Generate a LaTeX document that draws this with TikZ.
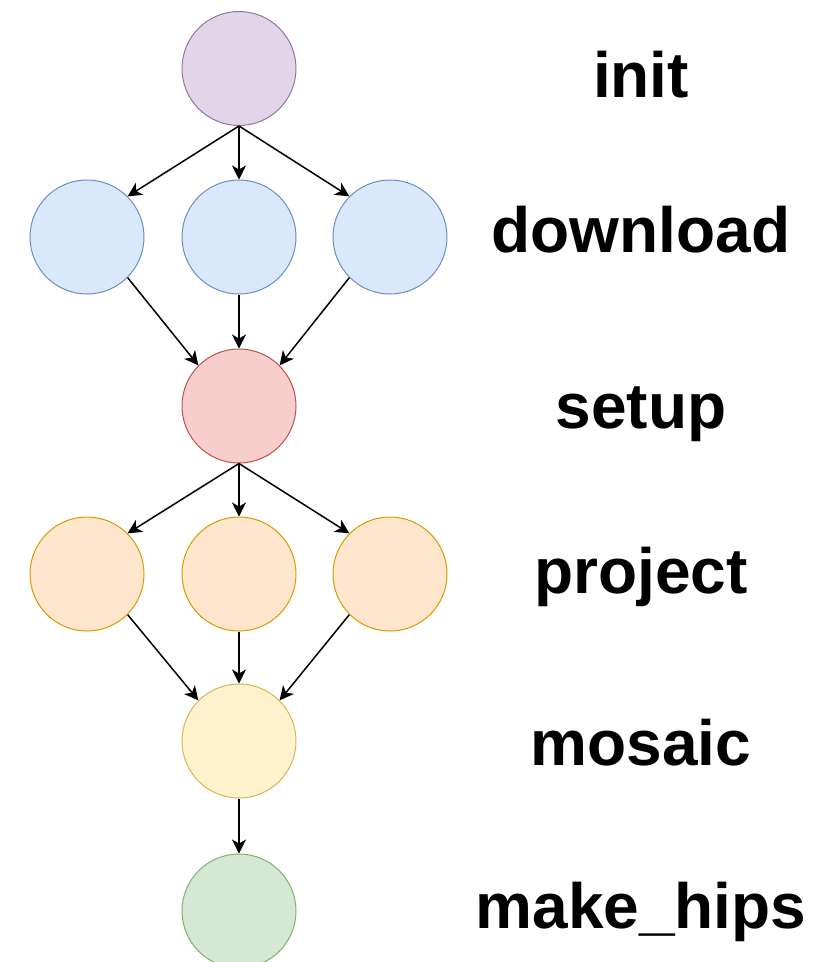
\documentclass[tikz,border=0pt]{standalone}
\usepackage{fontspec}
\setmainfont{Liberation Sans}
\usetikzlibrary{arrows.meta}

\definecolor{purpleFill}{HTML}{E1D5E7}\definecolor{purpleLine}{HTML}{9673A6}
\definecolor{blueFill}{HTML}{DAE8FC}\definecolor{blueLine}{HTML}{6C8EBF}
\definecolor{redFill}{HTML}{F8CECC}\definecolor{redLine}{HTML}{B85450}
\definecolor{orangeFill}{HTML}{FFE6CC}\definecolor{orangeLine}{HTML}{D79B00}
\definecolor{yellowFill}{HTML}{FFF2CC}\definecolor{yellowLine}{HTML}{D6B656}
\definecolor{greenFill}{HTML}{D5E8D4}\definecolor{greenLine}{HTML}{82B366}

\tikzset{
  job/.style={circle, minimum size=114pt, inner sep=0pt, line width=1pt},
  initjob/.style={job, fill=purpleFill, draw=purpleLine},
  downjob/.style={job, fill=blueFill, draw=blueLine},
  setupjob/.style={job, fill=redFill, draw=redLine},
  projjob/.style={job, fill=orangeFill, draw=orangeLine},
  mosjob/.style={job, fill=yellowFill, draw=yellowLine},
  hipsjob/.style={job, fill=greenFill, draw=greenLine},
  flow/.style={line width=1.5pt, -{Stealth[length=14pt, width=14pt, inset=4pt]}},
  stage/.style={anchor=base, font=\fontsize{64pt}{70pt}\selectfont\bfseries, inner sep=0pt}
}

\begin{document}
\begin{tikzpicture}[x=1pt, y=-1pt]
  \useasboundingbox (0,0) rectangle (830,962);

  % job nodes
  \node[initjob]  (init)  at (239,68.5) {};
  \node[downjob]  (dl1)   at (87,237)  {};
  \node[downjob]  (dl2)   at (239,237) {};
  \node[downjob]  (dl3)   at (390,237) {};
  \node[setupjob] (setup) at (239,406) {};
  \node[projjob]  (pr1)   at (87,574)  {};
  \node[projjob]  (pr2)   at (239,574) {};
  \node[projjob]  (pr3)   at (390,574) {};
  \node[mosjob]   (mos)   at (239,741) {};
  \node[hipsjob]  (hips)  at (239,911) {};

  % dependencies
  \draw[flow] (init.south) -- (dl1.north east);
  \draw[flow] (init.south) -- (dl2.north);
  \draw[flow] (init.south) -- (dl3.north west);
  \draw[flow] (dl1.south east) -- (setup.north west);
  \draw[flow] (dl2.south) -- (setup.north);
  \draw[flow] (dl3.south west) -- (setup.north east);
  \draw[flow] (setup.south) -- (pr1.north east);
  \draw[flow] (setup.south) -- (pr2.north);
  \draw[flow] (setup.south) -- (pr3.north west);
  \draw[flow] (pr1.south east) -- (mos.north west);
  \draw[flow] (pr2.south) -- (mos.north);
  \draw[flow] (pr3.south west) -- (mos.north east);
  \draw[flow] (mos.south) -- (hips.north);

  % stage labels
  \node[stage] (linit)  at (641,97)  {init};
  \node[stage] (ldl)    at (641,252) {download};
  \node[stage] (lsetup) at (641,428) {setup};
  \node[stage] (lproj)  at (641,593) {project};
  \node[stage] (lmos)   at (641,765) {mosaic};
  \node[stage] (lhips)  at (641,928) {make\_hips};
\end{tikzpicture}
\end{document}
